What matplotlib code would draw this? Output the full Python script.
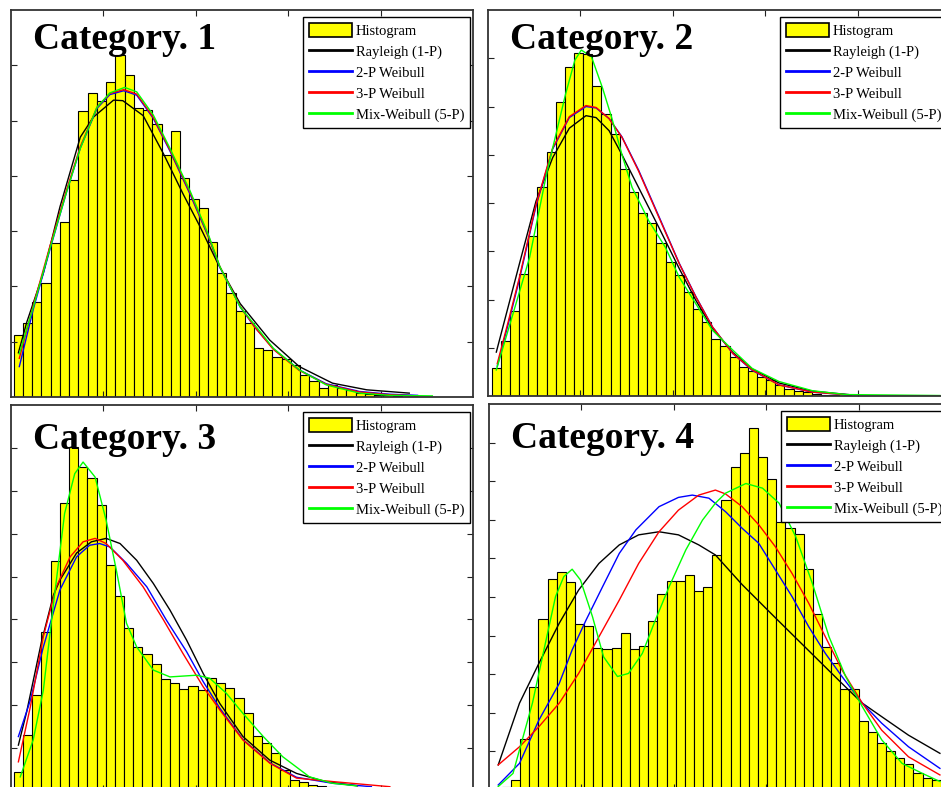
# Histograms of four categories with fitted Rayleigh / Weibull / mixed Weibull curves

import matplotlib
matplotlib.use('Agg')
import matplotlib.pyplot as plt
from matplotlib.lines import Line2D
from matplotlib.patches import Rectangle

# ---- Category 1 ----
c1_bin_start = 0.03
c1_bin_width = 0.1
c1_bars = [1.12, 1.34, 1.71, 2.07, 2.79, 3.17, 3.93, 5.17, 5.49, 5.35, 5.70, 6.18, 5.82, 5.23,
           5.19, 4.93, 4.37, 4.81, 3.97, 3.59, 3.41, 2.81, 2.25, 1.89, 1.56, 1.34, 0.88, 0.85,
           0.72, 0.68, 0.58, 0.40, 0.29, 0.16, 0.22, 0.17, 0.13, 0.08, 0.05, 0.04, 0.035, 0.02]
c1_ray_x = [0.08, 0.17, 0.35, 0.53, 0.75, 0.89, 1.11, 1.21, 1.43, 1.65, 1.86, 2.04, 2.24, 2.48,
            2.80, 3.12, 3.48, 3.85, 4.31]
c1_ray_y = [0.80, 1.35, 2.24, 3.44, 4.70, 5.06, 5.37, 5.36, 5.09, 4.40, 3.68, 3.10, 2.41, 1.69,
            1.03, 0.55, 0.25, 0.13, 0.07]
c1_wb_x = [0.09, 0.24, 0.42, 0.60, 0.75, 0.93, 1.07, 1.22, 1.36, 1.54, 1.72, 1.94, 2.14, 2.26,
           2.48, 2.64, 2.84, 3.12, 3.41, 3.77, 4.10, 4.40]
c1_wb2_y = [0.55, 1.58, 2.66, 3.70, 4.50, 5.22, 5.47, 5.54, 5.46, 5.04, 4.45, 3.66, 2.88, 2.35,
            1.63, 1.26, 0.87, 0.49, 0.24, 0.10, 0.05, 0.03]
c1_wb3_y = [0.70, 1.65, 2.72, 3.74, 4.53, 5.24, 5.49, 5.56, 5.48, 5.06, 4.47, 3.69, 2.90, 2.36,
            1.64, 1.26, 0.86, 0.48, 0.23, 0.09, 0.04, 0.02]
c1_mix_x = [0.09, 0.24, 0.42, 0.60, 0.75, 0.93, 1.07, 1.23, 1.36, 1.54, 1.72, 1.94, 2.14, 2.26,
            2.48, 2.64, 2.84, 3.12, 3.41, 3.77, 4.10, 4.56]
c1_mix_y = [0.78, 1.62, 2.68, 3.70, 4.50, 5.24, 5.50, 5.60, 5.52, 5.10, 4.50, 3.72, 2.92, 2.36,
            1.63, 1.30, 0.88, 0.49, 0.22, 0.07, 0.03, 0.02]

# ---- Category 2 ----
c2_bin_start = 0.04
c2_bin_width = 0.099
c2_bars = [0.59, 1.15, 1.77, 2.52, 3.31, 4.33, 5.06, 6.10, 6.82, 7.10, 7.08, 6.43, 5.84, 5.42,
           4.71, 4.23, 3.80, 3.59, 3.17, 2.77, 2.51, 2.15, 1.81, 1.53, 1.19, 1.03, 0.80, 0.60,
           0.52, 0.40, 0.33, 0.23, 0.14, 0.11, 0.08, 0.04, 0.03, 0.02, 0.01, 0.01]
c2_ray_x = [0.09, 0.34, 0.52, 0.70, 0.88, 1.06, 1.17, 1.31, 1.45, 1.63, 1.85, 2.07, 2.25, 2.43,
            2.65, 2.86, 3.15, 3.51, 3.90]
c2_ray_y = [0.91, 2.74, 4.04, 4.94, 5.55, 5.81, 5.77, 5.50, 5.00, 4.32, 3.49, 2.64, 1.98, 1.40,
            0.90, 0.56, 0.27, 0.10, 0.03]
c2_wb_x = [0.10, 0.22, 0.34, 0.52, 0.70, 0.88, 1.06, 1.17, 1.31, 1.45, 1.63, 1.85, 2.07, 2.25,
           2.43, 2.65, 2.86, 3.15, 3.51, 3.93]
c2_wb2_y = [0.62, 1.50, 2.42, 3.94, 5.12, 5.77, 6.00, 5.97, 5.75, 5.37, 4.68, 3.72, 2.75, 2.06,
            1.43, 0.88, 0.53, 0.23, 0.08, 0.02]
c2_wb3_y = [0.67, 1.55, 2.46, 3.97, 5.14, 5.79, 6.02, 5.98, 5.75, 5.36, 4.66, 3.70, 2.74, 2.05,
            1.43, 0.88, 0.54, 0.23, 0.08, 0.02]
c2_mix_x = [0.09, 0.25, 0.45, 0.64, 0.84, 0.94, 1.01, 1.12, 1.24, 1.34, 1.45, 1.56, 1.74, 1.92,
            2.07, 2.25, 2.43, 2.65, 2.86, 3.15, 3.51, 3.87, 4.89]
c2_mix_y = [0.54, 1.57, 2.87, 4.66, 6.26, 6.96, 7.17, 7.03, 6.38, 5.76, 5.00, 4.32, 3.63, 3.08,
            2.46, 1.91, 1.36, 0.95, 0.57, 0.30, 0.11, 0.03, 0.01]

# ---- Category 3 ----
c3_bin_start = 0.03
c3_bin_width = 0.0995
c3_bars = [0.45, 1.31, 2.24, 3.71, 5.36, 6.71, 8.03, 7.56, 7.30, 6.67, 5.27, 4.55, 3.81, 3.35,
           3.19, 2.95, 2.60, 2.51, 2.37, 2.45, 2.35, 2.63, 2.51, 2.41, 2.16, 1.83, 1.28, 1.11,
           0.88, 0.50, 0.26, 0.22, 0.15, 0.12, 0.09, 0.07, 0.05, 0.04, 0.03, 0.02, 0.01]
c3_ray_x = [0.08, 0.17, 0.33, 0.46, 0.53, 0.71, 0.87, 1.03, 1.18, 1.36, 1.54, 1.72, 1.90, 2.08,
            2.26, 2.51, 2.80, 3.09, 3.40, 3.75]
c3_ray_y = [1.07, 1.85, 3.48, 4.57, 4.92, 5.55, 5.81, 5.89, 5.77, 5.38, 4.84, 4.22, 3.52, 2.74,
            2.04, 1.27, 0.72, 0.41, 0.22, 0.12]
c3_wb2_x = [0.08, 0.21, 0.35, 0.53, 0.71, 0.85, 0.96, 1.07, 1.25, 1.47, 1.68, 1.90, 2.08, 2.26,
            2.51, 2.80, 3.09, 3.48, 3.90]
c3_wb2_y = [1.27, 2.12, 3.36, 4.69, 5.46, 5.73, 5.77, 5.69, 5.31, 4.76, 3.99, 3.25, 2.55, 1.93,
            1.20, 0.66, 0.32, 0.18, 0.10]
c3_wb3_x = [0.08, 0.21, 0.35, 0.49, 0.64, 0.78, 0.91, 1.03, 1.21, 1.43, 1.65, 1.86, 2.08, 2.26,
            2.51, 2.80, 3.09, 3.48, 4.10]
c3_wb3_y = [0.68, 1.97, 3.60, 4.76, 5.46, 5.81, 5.89, 5.77, 5.38, 4.76, 3.99, 3.21, 2.43, 1.89,
            1.19, 0.65, 0.30, 0.22, 0.10]
c3_mix_x = [0.10, 0.24, 0.35, 0.46, 0.58, 0.69, 0.78, 0.91, 1.03, 1.14, 1.25, 1.36, 1.54, 1.72,
            2.01, 2.15, 2.33, 2.51, 2.73, 2.94, 3.23, 3.48, 3.74]
c3_mix_y = [0.33, 1.19, 2.35, 4.37, 6.47, 7.40, 7.67, 7.32, 6.31, 5.15, 3.91, 3.36, 2.82, 2.66,
            2.70, 2.63, 2.28, 1.81, 1.27, 0.80, 0.33, 0.18, 0.12]

# ---- Category 4 ----
c4_bin_start = 0.04
c4_bin_width = 0.099
c4_bars = [0.03, 0.08, 0.26, 1.31, 2.68, 4.43, 5.46, 5.66, 5.38, 4.29, 4.26, 3.67, 3.64, 3.67,
           4.06, 3.66, 3.74, 4.38, 5.07, 5.42, 5.42, 5.57, 5.16, 5.27, 6.09, 7.50, 8.38, 8.72,
           9.37, 8.62, 8.05, 6.95, 6.78, 6.63, 5.72, 4.56, 3.70, 3.28, 2.61, 2.61, 1.80, 1.49,
           1.21, 1.02, 0.82, 0.67, 0.43, 0.30, 0.26]
c4_ray_x = [0.10, 0.33, 0.54, 0.76, 0.97, 1.19, 1.41, 1.62, 1.84, 2.05, 2.27, 2.45, 2.74, 3.10,
            3.46, 3.82, 4.04, 4.25, 4.54, 4.88]
c4_ray_y = [0.65, 2.25, 3.28, 4.32, 5.18, 5.87, 6.35, 6.61, 6.69, 6.61, 6.35, 6.09, 5.32, 4.46,
            3.61, 2.76, 2.25, 1.90, 1.42, 0.95]
c4_wb2_x = [0.10, 0.33, 0.54, 0.76, 0.90, 1.05, 1.23, 1.41, 1.59, 1.84, 2.05, 2.20, 2.38, 2.56,
            2.74, 2.92, 3.10, 3.28, 3.46, 3.64, 3.82, 4.04, 4.25, 4.54, 4.88]
c4_wb2_y = [0.13, 0.69, 1.81, 2.76, 3.63, 4.40, 5.27, 6.13, 6.74, 7.34, 7.58, 7.64, 7.56, 7.21,
            6.78, 6.39, 5.70, 5.01, 4.23, 3.54, 2.94, 2.25, 1.73, 1.12, 0.56]
c4_wb3_x = [0.10, 0.33, 0.54, 0.76, 0.97, 1.19, 1.41, 1.62, 1.84, 2.05, 2.27, 2.45, 2.56, 2.74,
            2.92, 3.10, 3.28, 3.46, 3.64, 3.82, 4.04, 4.25, 4.54, 4.88]
c4_wb3_y = [0.65, 1.12, 1.64, 2.25, 3.02, 3.97, 4.92, 5.87, 6.69, 7.25, 7.64, 7.77, 7.67, 7.34,
            6.87, 6.30, 5.61, 4.84, 3.97, 3.11, 2.25, 1.55, 0.86, 0.39]
c4_mix_x = [0.10, 0.26, 0.36, 0.47, 0.61, 0.72, 0.81, 0.90, 0.99, 1.12, 1.24, 1.39, 1.51, 1.66,
            1.80, 1.95, 2.13, 2.31, 2.45, 2.56, 2.78, 2.96, 3.14, 3.32, 3.50, 3.68, 3.86, 4.04,
            4.25, 4.47, 4.69, 4.88]
c4_mix_y = [0.09, 0.43, 1.30, 2.25, 3.80, 5.01, 5.53, 5.72, 5.44, 4.49, 3.45, 2.94, 3.02, 3.54,
            4.40, 5.27, 6.22, 6.99, 7.43, 7.69, 7.94, 7.82, 7.43, 6.56, 5.35, 3.97, 2.94, 2.16,
            1.30, 0.69, 0.43, 0.22]

titles = ['Category. 1', 'Category. 2', 'Category. 3', 'Category. 4']
legend_labels = ['Histogram', 'Rayleigh (1-P)', '2-P Weibull', '3-P Weibull', 'Mix-Weibull (5-P)']

SERIF = 'Liberation Serif'
W, H = 941, 787


def add_px_axes(fig, left, top, width, height):
    # axes placed in pixel units, measured from the top-left corner of the image
    return fig.add_axes([left / W, 1 - (top + height) / H, width / W, height / H])


def draw_panel(ax, title, title_y, ymax, bin_start, bin_width, bars, curves):
    lefts = [bin_start + i * bin_width for i in range(len(bars))]
    ax.bar(lefts, bars, width=bin_width, align='edge', color='#FFFF00',
           edgecolor='black', linewidth=0.8, zorder=1)

    colors = ['black', '#0000FF', '#FF0000', '#00FF00']
    for (cx, cy), col in zip(curves, colors):
        ax.plot(cx, cy, color=col, linewidth=1.0, zorder=2)

    ax.set_xlim(0, 5)
    ax.set_ylim(0, ymax)
    ax.set_xticks([1, 2, 3, 4])
    ax.set_yticks(range(1, ymax))
    ax.tick_params(direction='in', length=4, width=0.8, top=True, right=True,
                   labelbottom=False, labelleft=False, color='#222222')
    for sp in ax.spines.values():
        sp.set_color('#333333')
        sp.set_linewidth(1.3)

    ax.text(0.048, title_y, title, transform=ax.transAxes, family=SERIF,
            fontweight='bold', fontsize=27, va='baseline', ha='left', zorder=3)

    handles = [Rectangle((0, 0), 1, 1, facecolor='#FFFF00', edgecolor='black', linewidth=1.2)]
    handles += [Line2D([], [], color=c, linewidth=2.0) for c in colors]
    leg = ax.legend(handles, legend_labels, loc='upper right', bbox_to_anchor=(0.9935, 0.982),
                    borderaxespad=0, fancybox=False, framealpha=1, edgecolor='black',
                    prop={'family': SERIF, 'size': 10.5}, handlelength=2.95,
                    handleheight=1.1, handletextpad=0.25, labelspacing=0.42, borderpad=0.4)
    leg.get_frame().set_linewidth(1.0)
    leg.set_zorder(5)


fig = plt.figure(figsize=(W / 100, H / 100), dpi=100)

ax1 = add_px_axes(fig, 11, 10, 462, 387)
ax2 = add_px_axes(fig, 488, 10, 462, 386)
ax3 = add_px_axes(fig, 11, 405, 462, 386)
ax4 = add_px_axes(fig, 489, 404, 462, 386)

draw_panel(ax1, titles[0], 0.899, 7, c1_bin_start, c1_bin_width, c1_bars,
           [(c1_ray_x, c1_ray_y), (c1_wb_x, c1_wb2_y), (c1_wb_x, c1_wb3_y), (c1_mix_x, c1_mix_y)])
draw_panel(ax2, titles[1], 0.899, 8, c2_bin_start, c2_bin_width, c2_bars,
           [(c2_ray_x, c2_ray_y), (c2_wb_x, c2_wb2_y), (c2_wb_x, c2_wb3_y), (c2_mix_x, c2_mix_y)])
draw_panel(ax3, titles[2], 0.887, 9, c3_bin_start, c3_bin_width, c3_bars,
           [(c3_ray_x, c3_ray_y), (c3_wb2_x, c3_wb2_y), (c3_wb3_x, c3_wb3_y), (c3_mix_x, c3_mix_y)])
draw_panel(ax4, titles[3], 0.887, 10, c4_bin_start, c4_bin_width, c4_bars,
           [(c4_ray_x, c4_ray_y), (c4_wb2_x, c4_wb2_y), (c4_wb3_x, c4_wb3_y), (c4_mix_x, c4_mix_y)])

plt.savefig('out.png', dpi=100)
